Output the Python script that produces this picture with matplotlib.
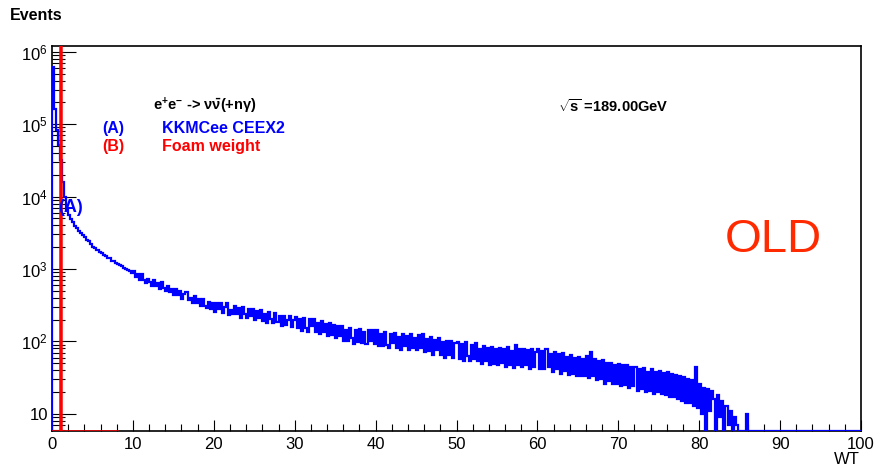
import matplotlib
matplotlib.use("Agg")
import matplotlib.pyplot as plt
from matplotlib.ticker import FixedLocator, FixedFormatter, LogLocator, NullFormatter, MultipleLocator
import numpy as np

plt.rcParams['font.family'] = ['Liberation Sans', 'DejaVu Sans']
plt.rcParams['mathtext.fontset'] = 'custom'
plt.rcParams['mathtext.rm'] = 'Liberation Sans'
plt.rcParams['mathtext.it'] = 'Liberation Sans:italic'
plt.rcParams['mathtext.bf'] = 'Liberation Sans:bold'

# (A) KKMCee CEEX2 : histogram of WT, bins of 0.25 from 0 to 100
wt_edges = np.arange(0, 100.25, 0.25)
kkmc_events = (
    [620000, 160000, 83000, 52000, 32000, 16000, 9800, 6800, 5650, 4880,
     4400, 3950, 3660, 3370, 3180, 2930, 2770, 2550, 2420, 2230]          # 0-5
    + [2010, 1930, 1850, 1700, 1640, 1570, 1530, 1420, 1400, 1310,
       1300, 1210, 1190, 1120, 1110, 1030, 1010, 965, 945, 890]            # 5-10
    + [947, 765, 854, 707, 850, 696, 637, 739, 668, 575,
       702, 580, 647, 536, 652, 541, 495, 591, 483, 532]                   # 10-15
    + [431, 536, 439, 497, 385, 454, 477, 371, 403, 335,
       426, 338, 388, 305, 391, 312, 288, 352, 282, 342]                   # 15-20
    + [256, 343, 279, 343, 247, 298, 336, 233, 274, 238,
       310, 238, 287, 214, 298, 239, 214, 279, 221, 278]                   # 20-25
    + [196, 267, 211, 270, 189, 237, 178, 254, 201, 180,
       248, 185, 226, 165, 224, 169, 198, 223, 158, 200]                   # 25-30
    + [217, 152, 202, 139, 211, 155, 137, 201, 161, 207,
       135, 179, 126, 190, 136, 175, 120, 179, 122, 168]                   # 30-35
    + [112, 164, 118, 165, 102, 143, 103, 153, 110, 92,
       142, 99, 147, 94, 135, 91, 143, 100, 144, 92]                       # 35-40
    + [143, 87, 127, 86, 137, 90, 80, 128, 94, 131,
       80, 114, 77, 126, 86, 120, 76, 127, 80, 113]                        # 40-45
    + [76, 121, 82, 125, 71, 107, 73, 115, 66, 104,
       76, 111, 64, 98, 59, 101, 66, 103, 59, 94]                          # 45-50
    + [99, 58, 91, 54, 98, 63, 54, 90, 58, 94,
       53, 79, 49, 86, 54, 81, 47, 83, 49, 79]                             # 50-55
    + [47, 81, 50, 78, 45, 84, 48, 74, 43, 90,
       47, 79, 44, 79, 48, 75, 42, 78, 45, 72]                             # 55-60
    + [78, 42, 74, 41, 78, 45, 68, 38, 72, 41,
       68, 36, 70, 39, 61, 34, 64, 35, 60, 33]                             # 60-65
    + [61, 33, 58, 33, 62, 31, 72, 33, 57, 29,
       54, 30, 55, 26, 50, 28, 51, 26, 48, 26]                             # 65-70
    + [49, 24, 47, 25, 48, 23, 44, 24, 45, 21,
       42, 22, 43, 20, 38, 21, 41, 19, 38, 20]                             # 70-75
    + [39, 19, 37, 18, 38, 17, 35, 17, 34, 16,
       33, 15, 32, 14, 30, 14, 29, 13, 44, 12]                             # 75-80
    + [26, 10, 23, 0, 22, 11, 21, 16, 0, 18,
       9, 15, 0, 13, 7, 11, 0, 9, 7, 0]                                    # 80-85
    + [0, 0, 0, 10] + [0] * 16                                             # 85-90
    + [0] * 40                                                             # 90-100
)

# (B) Foam weight : all events at WT = 1, bins of 0.1 from 0 to 8
foam_edges = np.arange(0, 8.05, 0.1)
foam_events = [0] * 10 + [2000000] + [0] * 69

ymin, ymax = 5.8, 1.2e6

fig = plt.figure(figsize=(8.77, 4.66), dpi=100)
ax = fig.add_axes([52 / 877, 35 / 466, 809 / 877, 385 / 466])

# ROOT draws empty bins on the lower frame
kk = np.array(kkmc_events, dtype=float)
fo = np.array(foam_events, dtype=float)
ax.stairs(np.where(kk > 0, kk, ymin), wt_edges, color='#0000ff', lw=1.6, zorder=3)
ax.stairs(np.where(fo > 0, fo, ymin), foam_edges, color='#ff0000', lw=1.8, zorder=4)

ax.set_yscale('log')
ax.set_xlim(0, 100)
ax.set_ylim(ymin, ymax)

ax.xaxis.set_major_locator(MultipleLocator(10))
ax.xaxis.set_minor_locator(MultipleLocator(2))
ax.yaxis.set_major_locator(FixedLocator([10, 1e2, 1e3, 1e4, 1e5, 1e6]))
ax.yaxis.set_major_formatter(FixedFormatter(['10', '$10^{2}$', '$10^{3}$', '$10^{4}$',
                                             '$10^{5}$', '$10^{6}$']))
ax.yaxis.set_minor_locator(LogLocator(base=10, subs=range(2, 10), numticks=20))
ax.yaxis.set_minor_formatter(NullFormatter())

ax.tick_params(axis='x', which='major', direction='in', length=8, width=0.8,
               labelsize=12, pad=4, top=False)
ax.tick_params(axis='x', which='minor', direction='in', length=5, width=0.8, top=False)
ax.tick_params(axis='y', which='major', direction='in', length=17, width=0.8,
               labelsize=12, pad=3, right=False)
ax.tick_params(axis='y', which='minor', direction='in', length=9, width=0.8, right=False)
for s in ax.spines.values():
    s.set_linewidth(1.2)

fig.text(10 / 877, 1 - 16 / 466, 'Events', fontsize=11.5, fontweight='bold', va='center')
fig.text(860 / 877, 1 - 459 / 466, 'WT', fontsize=12, ha='right', va='center')
fig.text(60 / 877, 1 + 7 / 466, '(B)', fontsize=11, fontweight='bold', color='#ff0000',
         ha='center', va='center')

fig.text(153 / 877, 1 - 106 / 466,
         r'e$\mathbf{^{+}}$e$\mathbf{^{-}}$ -> $\mathbf{\nu\bar{\nu}}$(+n$\mathbf{\gamma}$)',
         fontsize=10.5, fontweight='bold', va='center')
fig.text(102 / 877, 1 - 129 / 466, '(A)', fontsize=11.5, fontweight='bold', color='#0000ff', va='center')
fig.text(162 / 877, 1 - 129 / 466, 'KKMCee CEEX2', fontsize=11.5, fontweight='bold', color='#0000ff', va='center')
fig.text(102 / 877, 1 - 147 / 466, '(B)', fontsize=11.5, fontweight='bold', color='#ff0000', va='center')
fig.text(162 / 877, 1 - 147 / 466, 'Foam weight', fontsize=11.5, fontweight='bold', color='#ff0000', va='center')
fig.text(558 / 877, 1 - 106 / 466, r'$\sqrt{\mathbf{s}}$ =189.00GeV', fontsize=10.5,
         fontweight='bold', va='center')
fig.text(58 / 877, 1 - 208 / 466, '(A)', fontsize=13, fontweight='bold', color='#0000ff', va='center')
fig.text(725 / 877, 1 - 240 / 466, 'OLD', fontsize=34, color='#ff2a00', va='center')

fig.savefig('out.png', dpi=100)
